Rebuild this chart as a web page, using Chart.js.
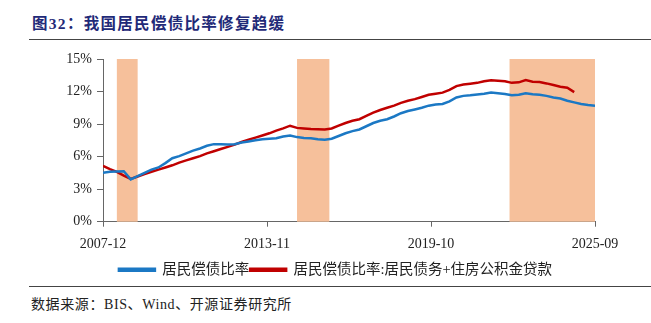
<!DOCTYPE html>
<html lang="zh">
<head>
<meta charset="utf-8">
<title>图32：我国居民偿债比率修复趋缓</title>
<script src="https://cdn.jsdelivr.net/npm/chart.js"></script>
<style>
  body, html { margin: 0; padding: 0; background: #fff; }
  #wrap { position: relative; width: 651px; height: 323px; overflow: hidden; }
  #title {
    position: absolute; left: 32px; top: 11px;
    font: bold 15.5px "Liberation Serif", "Noto Sans CJK SC", serif;
    color: #1f2a78; letter-spacing: 1.3px;
  }
  .rule { position: absolute; left: 29px; width: 622px; height: 1px; background: #444; }
  #box { position: absolute; left: 0; top: 45px; width: 651px; height: 242px; }
  #source {
    position: absolute; left: 31px; top: 293px;
    font: 14px "Liberation Serif", "Noto Sans CJK SC", serif; color: #222;
    letter-spacing: 0.6px;
  }
</style>
</head>
<body>
<div id="wrap">
  <div id="title">图32：我国居民偿债比率修复趋缓</div>
  <div class="rule" style="top:39px"></div>
  <div id="box"><canvas id="chart"></canvas></div>
  <div class="rule" style="top:286px"></div>
  <div id="source">数据来源：BIS、Wind、开源证券研究所</div>
</div>
<script>
// quarterly data, first point 2007-12, one point every 3 months
const startYear = 2007, startMonth = 12;
const seriesNames = ['居民偿债比率', '居民偿债比率:居民债务+住房公积金贷款'];
const dsrHousehold = [
  4.5, 4.6, 4.62, 4.65, 3.9, 4.2, 4.5, 4.8, 5.0, 5.4,
  5.85, 6.05, 6.3, 6.55, 6.75, 7.0, 7.15, 7.15, 7.12, 7.15,
  7.3, 7.4, 7.5, 7.6, 7.65, 7.7, 7.85, 7.95, 7.8, 7.72,
  7.7, 7.6, 7.55, 7.65, 7.9, 8.15, 8.35, 8.5, 8.8, 9.1,
  9.3, 9.45, 9.7, 10.0, 10.2, 10.35, 10.5, 10.7, 10.8, 10.85,
  11.1, 11.45, 11.6, 11.65, 11.72, 11.8, 11.9, 11.85, 11.78, 11.65,
  11.7, 11.85, 11.75, 11.7, 11.6, 11.45, 11.35, 11.15, 11.0, 10.85,
  10.75, 10.7
];
const dsrWithFund = [
  5.15, 4.85, 4.6, 4.25, 3.95, 4.17, 4.4, 4.6, 4.8, 5.0,
  5.2, 5.45, 5.65, 5.85, 6.05, 6.3, 6.5, 6.7, 6.9, 7.1,
  7.35, 7.55, 7.75, 7.95, 8.15, 8.4, 8.6, 8.85, 8.65, 8.6,
  8.55, 8.52, 8.5, 8.6, 8.85, 9.1, 9.3, 9.45, 9.75, 10.05,
  10.3, 10.5, 10.7, 10.95, 11.15, 11.3, 11.5, 11.7, 11.8, 11.9,
  12.15, 12.5, 12.65, 12.72, 12.8, 12.95, 13.05, 13.0, 12.95, 12.8,
  12.85, 13.05, 12.9, 12.88, 12.75, 12.6, 12.45, 12.35, 11.95
];
// shaded periods, months counted from 2007-12
const shadeStart = [6, 84, 176];
const shadeEnd   = [15, 98, 213];
const tickMonths = [0, 71, 142, 213];

function monthLabel(m) {
  const total = startYear * 12 + (startMonth - 1) + m;
  const y = Math.floor(total / 12), mo = total % 12 + 1;
  return y + '-' + (mo < 10 ? '0' + mo : mo);
}
const toPoints = arr => arr.map((v, i) => ({ x: i * 3, y: v }));

const shadePlugin = {
  id: 'shade',
  beforeDatasetsDraw(chart) {
    const { ctx, chartArea, scales } = chart;
    ctx.save();
    ctx.fillStyle = '#f6c09b';
    for (let i = 0; i < shadeStart.length; i++) {
      const x1 = scales.x.getPixelForValue(shadeStart[i]);
      const x2 = scales.x.getPixelForValue(shadeEnd[i]);
      const top = scales.y.getPixelForValue(15);
      ctx.fillRect(x1, top, x2 - x1, chartArea.bottom - top);
    }
    ctx.restore();
  }
};

const tickFont = { family: '"Liberation Serif", serif', size: 14 };

new Chart(document.getElementById('chart'), {
  type: 'line',
  data: {
    datasets: [
      { label: seriesNames[0], data: toPoints(dsrHousehold), borderColor: '#1b78c4', backgroundColor: '#1b78c4', borderWidth: 2.5, pointRadius: 0, tension: 0 },
      { label: seriesNames[1], data: toPoints(dsrWithFund), borderColor: '#c00000', backgroundColor: '#c00000', borderWidth: 2.5, pointRadius: 0, tension: 0 }
    ]
  },
  plugins: [shadePlugin],
  options: {
    responsive: true,
    maintainAspectRatio: false,
    animation: false,
    layout: { padding: { left: 20, right: 0, top: 14, bottom: 0 } },
    plugins: {
      legend: {
        position: 'bottom',
        labels: {
          boxWidth: 36, boxHeight: 2, padding: 1, color: '#222',
          font: { family: '"Liberation Serif", "Noto Sans CJK SC", serif', size: 14.5 }
        }
      },
      tooltip: { enabled: false }
    },
    scales: {
      x: {
        type: 'linear', min: 0, max: 213,
        afterBuildTicks: s => { s.ticks = tickMonths.map(v => ({ value: v })); },
        ticks: { callback: v => monthLabel(v), color: '#222', font: tickFont, maxRotation: 0, padding: 9 },
        grid: { drawOnChartArea: false, tickLength: 5, color: '#666' },
        border: { color: '#666', width: 1 }
      },
      y: {
        min: 0, max: 15,
        afterFit: s => { s.width = 83; },
        ticks: { stepSize: 3, callback: v => v + '%', color: '#222', font: tickFont, padding: 5 },
        grid: { drawOnChartArea: false, tickLength: 6, color: '#666' },
        border: { color: '#666', width: 1 }
      },
      pad: {
        position: 'right', min: 0, max: 1,
        afterFit: s => { s.width = 56; },
        ticks: { display: false },
        grid: { display: false },
        border: { display: false }
      }
    }
  }
});
</script>
</body>
</html>
